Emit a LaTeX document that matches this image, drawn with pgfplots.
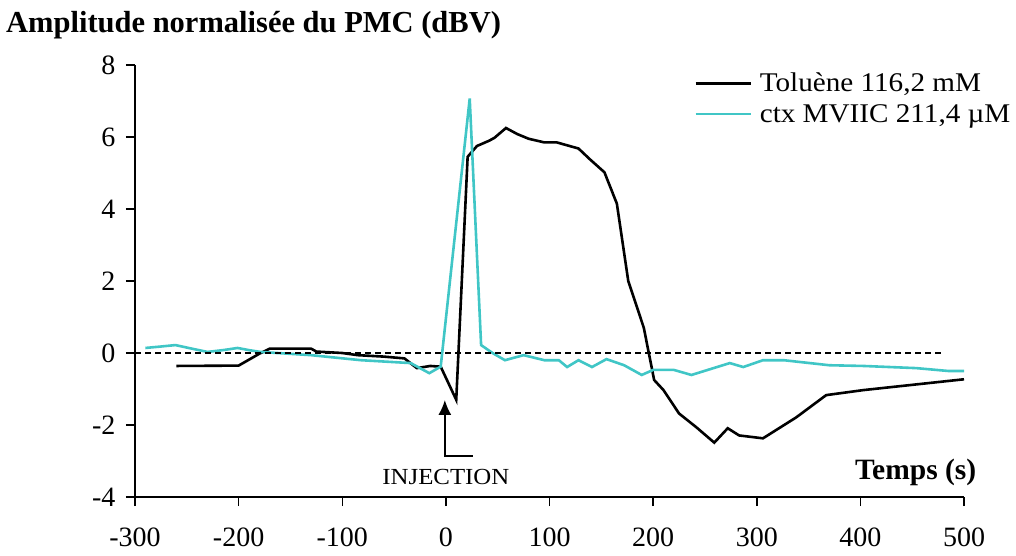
\documentclass[border=0pt]{standalone}
\usepackage{pgfplots}
\pgfplotsset{compat=1.18}
\usepackage{fontspec}
\setmainfont{Liberation Serif}
\newfontfamily\widefont{Liberation Serif}[FakeStretch=1.08]
\usetikzlibrary{arrows.meta}
\definecolor{ctxcol}{RGB}{64,198,198}

\begin{document}
\begin{tikzpicture}[x=1pt,y=1pt]
  \useasboundingbox (0,0) rectangle (1016,555);
  \node[anchor=base west,font=\bfseries\fontsize{30.5}{32}\selectfont,inner sep=0pt] at (6,522) {Amplitude normalisée du PMC (dBV)};

  \begin{axis}[
      at={(135pt,58pt)}, anchor=south west,
      scale only axis,
      width=829pt, height=432pt,
      xmin=-300, xmax=500,
      ymin=-4, ymax=8,
      xtick={-300,-200,...,500},
      xticklabels={-300,-200,-100,0,100,200,300,400,500},
      ytick={-4,-2,...,8},
      yticklabels={-4,-2,0,2,4,6,8},
      axis x line*=bottom,
      axis y line*=left,
      axis line style={-,line width=1.5pt},
      tick style={line width=1.5pt,black},
      tick align=outside,
      major tick length=9pt,
      tick label style={font=\fontsize{28}{30}\selectfont},
      xticklabel style={yshift=-18pt},
      yticklabel style={xshift=-7pt},
      clip=false,
      legend style={at={(0.6707,0.991)}, anchor=north west, draw=none, fill=none,
        font=\widefont\fontsize{27}{30}\selectfont, row sep=7pt,
        nodes={inner sep=2pt}},
      legend cell align=left,
      legend image code/.code={\draw[#1] (0pt,0pt) -- (55pt,0pt); \path (61pt,0pt);},
  ]
    % toluene
    \addplot[black,line width=2.6pt] coordinates {
      (-260,-0.36)(-200,-0.35)(-180,-0.02)(-170,0.12)(-130,0.12)(-125,0.04)
      (-100,0.0)(-85,-0.06)(-60,-0.1)(-40,-0.15)(-28,-0.42)(-15,-0.36)(-5,-0.38)
      (10,-1.3)(21,5.45)(30,5.75)(42,5.9)(47,5.98)(58,6.25)(69,6.08)(80,5.95)
      (95,5.85)(107,5.85)(128,5.68)(139,5.38)(153,5.02)(165,4.15)(176,2.0)
      (191,0.7)(201,-0.75)(210,-1.03)(225,-1.68)(242,-2.07)(259,-2.49)(272,-2.09)
      (283,-2.29)(306,-2.37)(338,-1.79)(367,-1.17)(403,-1.03)(500,-0.73)};
    \addlegendentry{Toluène 116,2 mM}
    % ctx MVIIC
    \addplot[ctxcol,line width=2.6pt] coordinates {
      (-290,0.14)(-275,0.18)(-261,0.22)(-245,0.12)(-230,0.03)(-215,0.08)(-201,0.14)
      (-190,0.08)(-179,0.03)(-130,-0.06)(-82,-0.2)(-34,-0.28)(-16,-0.56)(-5,-0.38)
      (23,7.07)(34,0.22)(45,0.0)(57,-0.2)(75,-0.06)(95,-0.2)(109,-0.2)(117,-0.39)
      (128,-0.2)(141,-0.39)(155,-0.17)(172,-0.34)(189,-0.61)(200,-0.47)(220,-0.47)
      (237,-0.61)(274,-0.28)(287,-0.39)(306,-0.2)(326,-0.2)(370,-0.34)(403,-0.36)
      (454,-0.42)(485,-0.5)(500,-0.5)};
    \addlegendentry{ctx MVIIC 211,4 \textmu M}
    % zero line
    \addplot[black,line width=1.3pt,dash pattern=on 6pt off 4pt,forget plot] coordinates {(-300,0)(480,0)};

    \draw[line width=2.2pt,-{Latex[length=15pt,width=13pt]}] (axis cs:26,-2.87) -- (axis cs:-1,-2.87) -- (axis cs:-1,-1.3);
    \node[font=\widefont\fontsize{23}{25}\selectfont] at (axis cs:0,-3.44) {INJECTION};
    \node[anchor=base east,font=\bfseries\fontsize{29.5}{31}\selectfont,inner sep=0pt] at (axis cs:512,-3.52) {Temps (s)};
  \end{axis}
\end{tikzpicture}
\end{document}
